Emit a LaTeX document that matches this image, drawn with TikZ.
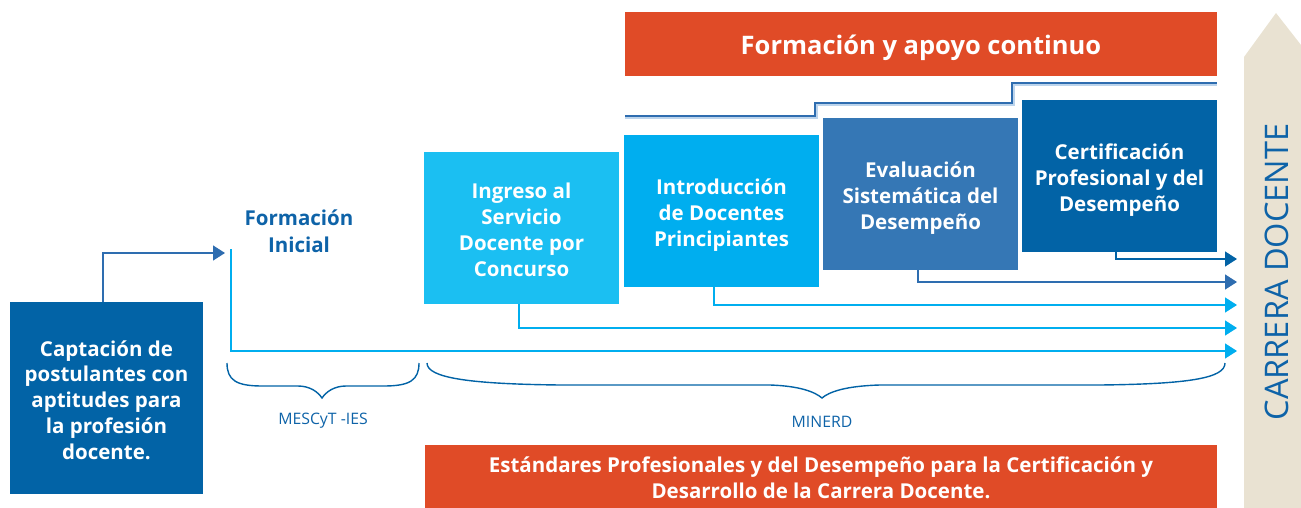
\documentclass[tikz,border=0pt]{standalone}
\usepackage{fontspec}
\setmainfont{Open Sans}
\usetikzlibrary{arrows.meta,calc}
\definecolor{orng}{HTML}{E04B27}
\definecolor{dblue}{HTML}{0263A6}
\definecolor{mblue}{HTML}{3577B5}
\definecolor{cyanA}{HTML}{00AEEF}
\definecolor{cyanB}{HTML}{1BBFF2}
\definecolor{beige}{HTML}{E9E2D2}
\definecolor{tblue}{HTML}{0E63A8}
\definecolor{lineblue}{HTML}{2E6DB0}
\definecolor{lightline}{HTML}{BCD4EC}
\tikzset{
  x=1pt,y=-1pt,
  bx/.style={anchor=north west,inner sep=0pt,outer sep=0pt},
  bxtext/.style={inner sep=0pt,text=white,font=\bfseries\fontsize{20.5}{25.8}\selectfont,align=center},
  bar/.style={anchor=north west,inner sep=0pt,outer sep=0pt,fill=orng},
  bartext/.style={inner sep=0pt,text=white,align=center},
  conn/.style={line width=1.3pt,-{Triangle[length=12pt,width=15pt]}},
  brc/.style={line width=1.4pt,dblue},
  lbl/.style={text=tblue,font=\fontsize{15.8}{18}\selectfont}
}
\begin{document}
\begin{tikzpicture}
\useasboundingbox (0,0) rectangle (1301,508);
% career arrow
\fill[beige] (1244,508) -- (1244,57) -- (1276,13) -- (1301,45) -- (1301,508) -- cycle;
\node[rotate=90,text=tblue,font=\fontsize{32.5}{34}\selectfont] (carrera) at (1277,272) {CARRERA DOCENTE};
% bars
\node[bar,minimum width=592pt,minimum height=64pt] (formacion) at (625,12) {};
\node[bartext,font=\bfseries\fontsize{25.5}{28}\selectfont] (formacionT) at ([yshift=-4pt]formacion.center) {Formación y apoyo continuo};
\node[bar,minimum width=792pt,minimum height=63pt] (estandares) at (425,445) {};
\node[bartext,font=\bfseries\fontsize{20.5}{26}\selectfont] (estandaresT) at ([yshift=-1pt]estandares.center) {Estándares Profesionales y del Desempeño para la Certificación y\\Desarrollo de la Carrera Docente.};
% step line
\draw[lightline,line width=1.2pt] (625,118) -- (817,118) -- (817,105) -- (1014,105) -- (1014,85) -- (1217,85);
\draw[lineblue,line width=1.2pt] (625,116) -- (815,116) -- (815,103) -- (1012,103) -- (1012,83) -- (1217,83);
% boxes
\node[bx,fill=dblue,minimum width=193pt,minimum height=192pt] (captacion) at (10,302) {};
\node[bxtext] (captacionT) at ([yshift=-2pt]captacion.center) {Captación de\\postulantes con\\aptitudes para\\la profesión\\docente.};
\node[bx,fill=cyanB,minimum width=195pt,minimum height=152pt] (ingreso) at (424,152) {};
\node[bxtext] (ingresoT) at ([yshift=-2pt]ingreso.center) {Ingreso al\\Servicio\\Docente por\\Concurso};
\node[bx,fill=cyanA,minimum width=195pt,minimum height=152pt] (intro) at (624,135) {};
\node[bxtext] (introT) at ([yshift=-4pt]intro.center) {Introducción\\de Docentes\\Principiantes};
\node[bx,fill=mblue,minimum width=195pt,minimum height=152pt] (evaluacion) at (823,118) {};
\node[bxtext] (evaluacionT) at ([yshift=-4pt]evaluacion.center) {Evaluación\\Sistemática del\\Desempeño};
\node[bx,fill=dblue,minimum width=195pt,minimum height=152pt] (certificacion) at (1022,100) {};
\node[bxtext] (certificacionT) at ([yshift=-4pt]certificacion.center) {Certificación\\Profesional y del\\Desempeño};
\node[text=tblue,font=\bfseries\fontsize{20.5}{27}\selectfont,align=center] (inicial) at (299,231) {Formación\\Inicial};
% coordinates
\coordinate (capTop) at (103,302);
\coordinate (inicialIn) at (225,253);
\coordinate (vStart) at (231,249);
\coordinate (e1) at (1237,351);
\coordinate (e2) at (1237,328);
\coordinate (e3) at (1237,305);
\coordinate (e4) at (1237,282);
\coordinate (e5) at (1237,259);
% connectors
\draw[conn,lineblue] (capTop) |- (inicialIn);
\draw[conn,cyanA] (vStart) |- (e1);
\draw[conn,cyanA] (ingreso.south -| 519,0) |- (e2);
\draw[conn,cyanA] (intro.south -| 714,0) |- (e3);
\draw[conn,lineblue] (evaluacion.south -| 918,0) |- (e4);
\draw[conn,dblue] (certificacion.south -| 1116,0) |- (e5);
% braces
\draw[brc] (227,363) .. controls (227,380) and (236,386) .. (262,386) -- (298,386) .. controls (310,386) and (318,392) .. (322,398) .. controls (326,392) and (334,386) .. (346,386) -- (384,386) .. controls (410,386) and (419,380) .. (419,363);
\draw[brc] (427,363) .. controls (427,378) and (470,384) .. (560,385) -- (770,385) .. controls (800,386) and (815,392) .. (822,398) .. controls (829,392) and (845,386) .. (880,385) -- (1100,385) .. controls (1190,384) and (1225,378) .. (1225,363);
\node[lbl] (mescyt) at (323,421) {MESCyT -IES};
\node[lbl] (minerd) at (822,422) {MINERD};
\end{tikzpicture}
\end{document}
